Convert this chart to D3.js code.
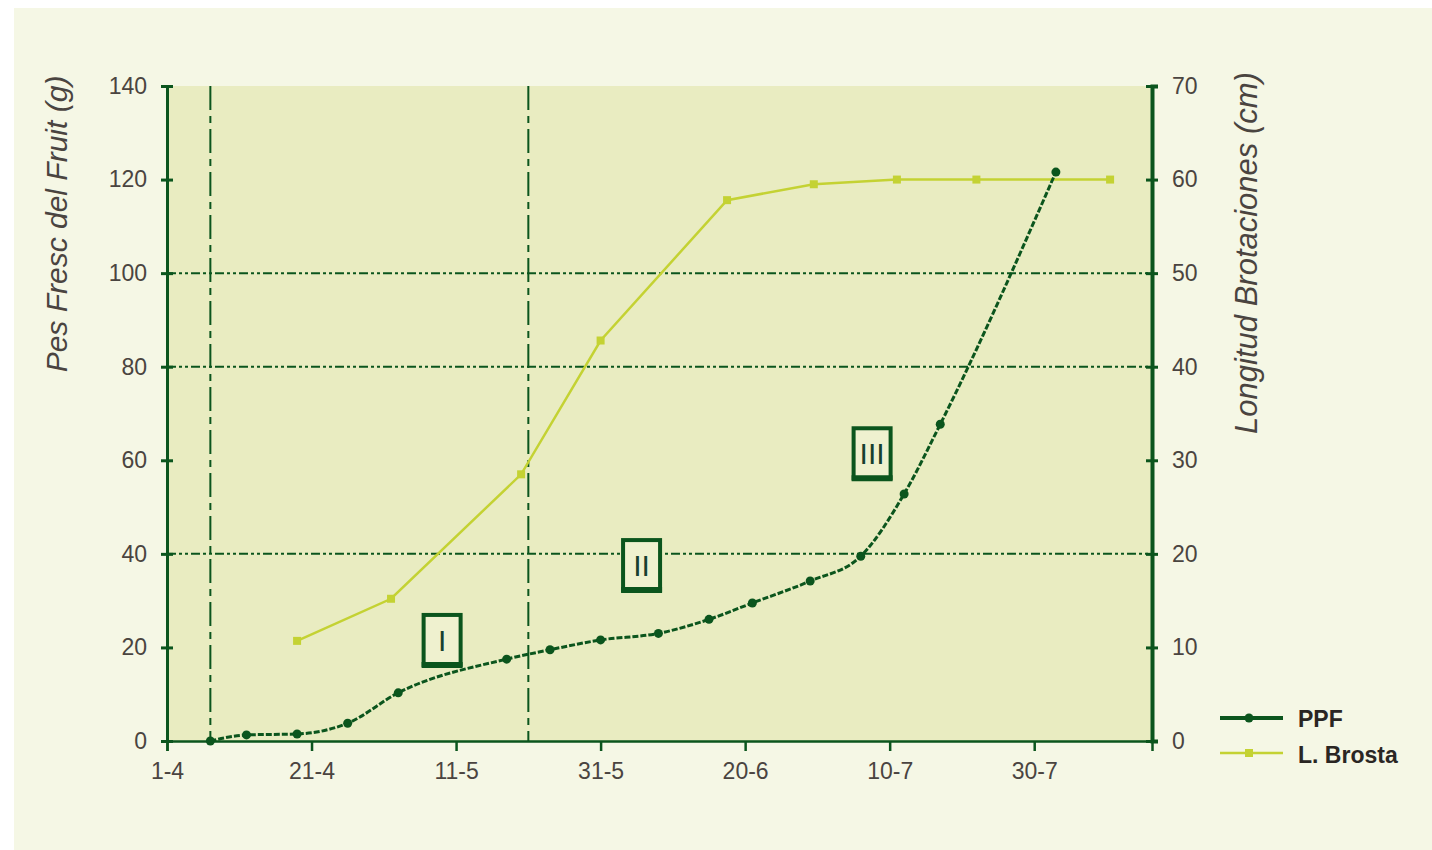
<!DOCTYPE html>
<html>
<head>
<meta charset="utf-8">
<script src="https://cdn.jsdelivr.net/npm/d3@7"></script>
<style>
  html, body { margin: 0; padding: 0; background: #ffffff; }
  svg { display: block; font-family: "Liberation Sans", Arial, sans-serif; }
</style>
</head>
<body>
<svg id="chart" width="1432" height="850"></svg>
<script>
/* ── Data ─────────────────────────────────────────────────────── */
/* x values are days counted from 1 April */
const xTickDays   = [0, 20, 40, 60, 80, 100, 120];
const xTickLabels = ["1-4", "21-4", "11-5", "31-5", "20-6", "10-7", "30-7"];

const ppfDays   = [6, 11, 18, 25, 32, 47, 53, 60, 68, 75, 81, 89, 96, 102, 107, 123];
const ppfValues = [0, 1.3, 1.5, 3.8, 10.3, 17.5, 19.5, 21.6, 23, 26, 29.5, 34.2, 39.5, 52.8, 67.7, 121.6];

const brostaDays   = [18, 31, 49, 60, 77.5, 89.5, 101, 112, 130.5];
const brostaValues = [10.7, 15.2, 28.5, 42.8, 57.8, 59.5, 60, 60, 60];

const leftTicks  = [0, 20, 40, 60, 80, 100, 120, 140];
const rightTicks = [0, 10, 20, 30, 40, 50, 60, 70];
const gridValues = [40, 80, 100];          /* dash-dot horizontal lines */
const phaseDays  = [6, 50];                /* dash-dot vertical lines */

const phaseLabels = ["I", "II", "III"];
const phaseX      = [38, 65.6, 97.5];
const phaseY      = [21.6, 37.6, 61.5];

/* ── Constants ────────────────────────────────────────────────── */
const DARK   = "#0b551d";
const YELLOW = "#c4d233";
const TEXT   = "#4a4440";
const W = 1432, H = 850;
const plot = { left: 167, right: 1152, top: 86, bottom: 741 };

const svg = d3.select("#chart");

/* background panels */
svg.append("rect").attr("x", 14).attr("y", 8).attr("width", W - 14).attr("height", H - 8)
  .attr("fill", "#f5f7e5");
svg.append("rect")
  .attr("x", plot.left).attr("y", plot.top)
  .attr("width", plot.right - plot.left).attr("height", plot.bottom - plot.top)
  .attr("fill", "#e9ecc1");

/* ── Scales ───────────────────────────────────────────────────── */
const x  = d3.scaleLinear().domain([0, 136.3]).range([plot.left, plot.right]);
const yL = d3.scaleLinear().domain([0, 140]).range([plot.bottom, plot.top]);
const yR = d3.scaleLinear().domain([0, 70]).range([plot.bottom, plot.top]);

/* ── Reference lines ──────────────────────────────────────────── */
svg.append("g").selectAll("line").data(gridValues).enter().append("line")
  .attr("x1", plot.left).attr("x2", plot.right)
  .attr("y1", d => yL(d)).attr("y2", d => yL(d))
  .attr("stroke", DARK).attr("stroke-width", 2)
  .attr("stroke-dasharray", "9,3,3,3,3,3");

svg.append("g").selectAll("line").data(phaseDays).enter().append("line")
  .attr("x1", d => x(d)).attr("x2", d => x(d))
  .attr("y1", plot.top).attr("y2", plot.bottom)
  .attr("stroke", DARK).attr("stroke-width", 2)
  .attr("stroke-dasharray", "24,6,7,6");

/* ── Axes ─────────────────────────────────────────────────────── */
const gx = svg.append("g").attr("transform", `translate(0,${plot.bottom})`)
  .call(d3.axisBottom(x).tickValues(xTickDays)
    .tickFormat((d, i) => xTickLabels[i]).tickSize(10).tickPadding(12));
gx.select(".domain").attr("stroke", DARK).attr("stroke-width", 2.5);
gx.selectAll(".tick line").attr("stroke", DARK).attr("stroke-width", 2.5);

const gl = svg.append("g").attr("transform", `translate(${plot.left},0)`)
  .call(d3.axisLeft(yL).tickValues(leftTicks).tickSize(6).tickPadding(14));
gl.select(".domain").attr("stroke", DARK).attr("stroke-width", 3);
gl.selectAll(".tick line").attr("x1", 6).attr("stroke", DARK).attr("stroke-width", 3);

const gr = svg.append("g").attr("transform", `translate(${plot.right},0)`)
  .call(d3.axisRight(yR).tickValues(rightTicks).tickSize(6).tickPadding(14));
gr.select(".domain").attr("stroke", DARK).attr("stroke-width", 4);
gr.selectAll(".tick line").attr("x1", -6).attr("stroke", DARK).attr("stroke-width", 3);

svg.selectAll(".tick text")
  .attr("fill", TEXT).style("font-size", "23px")
  .style("font-family", "'Liberation Sans', Arial, sans-serif");

/* axis titles */
svg.append("text")
  .attr("transform", "translate(67,224) rotate(-90)")
  .attr("text-anchor", "middle").attr("fill", TEXT)
  .style("font-size", "30px").style("font-style", "italic")
  .text("Pes Fresc del Fruit (g)");

svg.append("text")
  .attr("transform", "translate(1257,253) rotate(-90)")
  .attr("text-anchor", "middle").attr("fill", TEXT)
  .style("font-size", "31px").style("font-style", "italic")
  .text("Longitud Brotaciones (cm)");

/* ── Series ───────────────────────────────────────────────────── */
const brosta = brostaDays.map((d, i) => ({ x: d, y: brostaValues[i] }));
const ppf    = ppfDays.map((d, i) => ({ x: d, y: ppfValues[i] }));

svg.append("path").datum(brosta)
  .attr("fill", "none").attr("stroke", YELLOW).attr("stroke-width", 2.5)
  .attr("d", d3.line().x(d => x(d.x)).y(d => yR(d.y)));
svg.append("g").selectAll("rect").data(brosta).enter().append("rect")
  .attr("x", d => x(d.x) - 4).attr("y", d => yR(d.y) - 4)
  .attr("width", 8).attr("height", 8).attr("fill", YELLOW);

svg.append("path").datum(ppf)
  .attr("fill", "none").attr("stroke", DARK).attr("stroke-width", 3)
  .attr("stroke-dasharray", "6,2")
  .attr("d", d3.line().curve(d3.curveMonotoneX).x(d => x(d.x)).y(d => yL(d.y)));
svg.append("g").selectAll("circle").data(ppf).enter().append("circle")
  .attr("cx", d => x(d.x)).attr("cy", d => yL(d.y)).attr("r", 4.5)
  .attr("fill", DARK);

/* ── Phase boxes ──────────────────────────────────────────────── */
const boxes = svg.append("g").selectAll("g").data(phaseLabels).enter().append("g")
  .attr("transform", (d, i) => `translate(${x(phaseX[i])},${yL(phaseY[i])})`);
boxes.append("rect")
  .attr("x", -18).attr("y", -25).attr("width", 37).attr("height", 50)
  .attr("fill", "#eff1cf").attr("stroke", DARK).attr("stroke-width", 4);
boxes.append("line")
  .attr("x1", -20).attr("x2", 21).attr("y1", 25).attr("y2", 25)
  .attr("stroke", DARK).attr("stroke-width", 6);
boxes.append("text")
  .attr("text-anchor", "middle").attr("x", 0.5).attr("y", 11)
  .attr("fill", "#17402f").style("font-size", "30px")
  .text(d => d);

/* ── Legend ───────────────────────────────────────────────────── */
const legend = svg.append("g").attr("transform", "translate(1220,718)");
legend.append("line").attr("x1", 0).attr("x2", 63).attr("y1", 0).attr("y2", 0)
  .attr("stroke", DARK).attr("stroke-width", 4);
legend.append("circle").attr("cx", 29).attr("cy", 0).attr("r", 4.5).attr("fill", DARK);
legend.append("text").attr("x", 78).attr("y", 9)
  .attr("fill", "#2a2623").style("font-size", "23px").style("font-weight", "bold")
  .text("PPF");

legend.append("line").attr("x1", 0).attr("x2", 63).attr("y1", 35).attr("y2", 35)
  .attr("stroke", YELLOW).attr("stroke-width", 2.5);
legend.append("rect").attr("x", 25).attr("y", 31).attr("width", 8).attr("height", 8)
  .attr("fill", YELLOW);
legend.append("text").attr("x", 78).attr("y", 45)
  .attr("fill", "#2a2623").style("font-size", "23px").style("font-weight", "bold")
  .text("L. Brosta");
</script>
</body>
</html>
